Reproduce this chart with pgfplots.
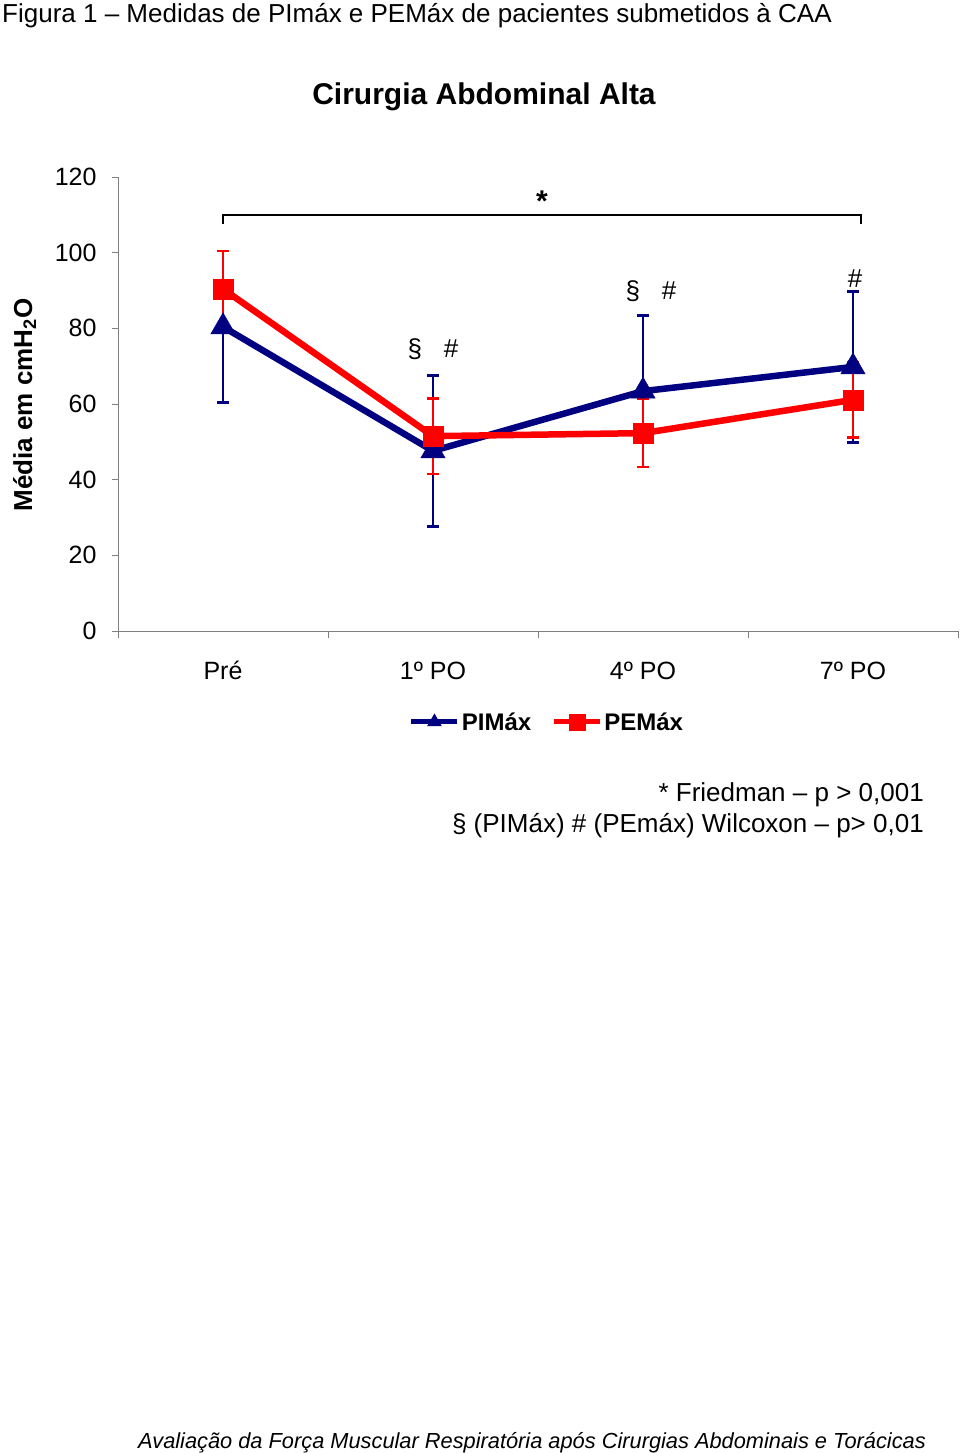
\documentclass[border=0pt]{standalone}
\usepackage{pgfplots}
\pgfplotsset{compat=1.18}
\usepackage{fontspec}
\setmainfont{Liberation Sans}
\definecolor{pimax}{RGB}{0,0,128}
\definecolor{pemax}{RGB}{255,0,0}
\definecolor{axgray}{RGB}{128,128,128}
\begin{document}
\begin{tikzpicture}
\useasboundingbox (0pt,0pt) rectangle (960pt,-1453pt);
\node[anchor=base west, inner sep=0pt, font=\fontsize{26}{30}\selectfont] at (2pt,-23pt) {Figura 1 – Medidas de PImáx e PEMáx de pacientes submetidos à CAA};
\node[anchor=base, inner sep=0pt, font=\bfseries\fontsize{30}{36}\selectfont] at (484pt,-105pt) {Cirurgia Abdominal Alta};
\node[anchor=base, rotate=90, inner sep=0pt, font=\bfseries\fontsize{26}{30}\selectfont] at (32pt,-405pt) {Média em cmH\textsubscript{2}O};
\node[anchor=base east, inner sep=0pt, font=\fontsize{26}{30}\selectfont] at (924pt,-801pt) {* Friedman – p > 0,001};
\node[anchor=base east, inner sep=0pt, font=\fontsize{26}{30}\selectfont] at (924pt,-832pt) {§ (PIMáx) \# (PEmáx) Wilcoxon – p> 0,01};
\node[anchor=base east, inner sep=0pt, font=\itshape\fontsize{21.8}{26}\selectfont] at (926pt,-1448pt) {Avaliação da Força Muscular Respiratória após Cirurgias Abdominais e Torácicas};
\begin{axis}[
  at={(118pt,-631pt)}, anchor=south west,
  scale only axis, width=840pt, height=454pt,
  xmin=-0.5, xmax=3.5, ymin=0, ymax=120,
  axis lines*=left,
  axis line style={axgray, line width=1pt},
  clip=false,
  xtick={0,1,2,3},
  xticklabels={Pré,1º PO,4º PO,7º PO},
  major x tick style={draw=none},
  minor xtick={-0.5,0.5,1.5,2.5,3.5},
  minor x tick style={axgray, line width=1pt},
  minor tick length=7pt,
  major tick length=6pt,
  ytick={0,20,40,60,80,100,120},
  y tick style={axgray, line width=1pt},
  tick align=outside,
  tick label style={font=\fontsize{25}{30}\selectfont, black},
  /pgf/number format/assume math mode=true,
  yticklabel style={xshift=-12pt},
  xticklabel style={yshift=-21pt},
  legend style={at={(0.5107,-0.2004)}, anchor=center, draw=none, fill=none,
    font=\bfseries\fontsize{24}{28}\selectfont,
    /tikz/every even column/.append style={column sep=18pt},
    inner sep=0pt},
  legend columns=2,
  legend cell align=left,
  legend image code/.code={\draw[mark repeat=2,mark phase=2,#1, line width=5pt, mark size=8pt] plot coordinates {(0pt,0pt) (23pt,0pt) (46pt,0pt)};},
]
\addplot[pimax, line width=6.5pt, mark=triangle*, mark size=14pt,
  mark options={solid, line width=0.5pt},
  error bars/.cd, y dir=both, y explicit,
  error bar style={line width=2.5pt},
  error mark options={rotate=90, mark size=6pt, line width=2.5pt}]
  coordinates {(0,80.4) +- (0,20) (1,47.6) +- (0,20) (2,63.4) +- (0,20) (3,69.8) +- (0,20)};
\addlegendentry{PIMáx}
\addplot[pemax, line width=6.5pt, mark=square*, mark size=10pt,
  mark options={solid, line width=0.5pt},
  error bars/.cd, y dir=both, y explicit,
  error bar style={line width=2.5pt},
  error mark options={rotate=90, mark size=6pt, line width=2.5pt}]
  coordinates {(0,90.4) +- (0,10) (1,51.5) +- (0,10) (2,52.3) +- (0,9) (3,61.1) +- (0,10)};
\addlegendentry{PEMáx}
\draw[black, line width=2pt] (axis cs:0,107.6) -- (axis cs:0,110) -- (axis cs:3.038,110) -- (axis cs:3.038,107.6);
\node[anchor=base, inner sep=0pt, font=\bfseries\fontsize{30}{30}\selectfont] at (axis cs:1.519,110.8) {*};
\node[anchor=base, inner sep=0pt, font=\fontsize{26}{30}\selectfont] at (axis cs:0.914,72.4) {§};
\node[anchor=base, inner sep=0pt, font=\fontsize{26}{30}\selectfont] at (axis cs:1.086,72.4) {\#};
\node[anchor=base, inner sep=0pt, font=\fontsize{26}{30}\selectfont] at (axis cs:1.952,87.5) {§};
\node[anchor=base, inner sep=0pt, font=\fontsize{26}{30}\selectfont] at (axis cs:2.124,87.5) {\#};
\node[anchor=base, inner sep=0pt, font=\fontsize{26}{30}\selectfont] at (axis cs:3.01,90.9) {\#};
\end{axis}
\end{tikzpicture}
\end{document}
